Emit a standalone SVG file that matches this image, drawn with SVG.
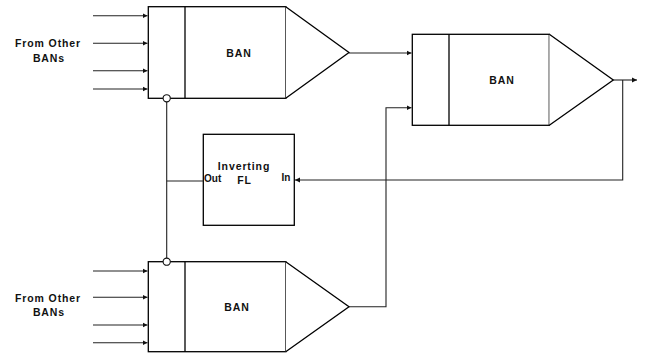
<svg xmlns="http://www.w3.org/2000/svg" width="645" height="355" viewBox="0 0 645 355">
<style>
.box{fill:#fff;stroke:#000;stroke-width:1.3}
.ln{fill:none;stroke:#222;stroke-width:1.1}
.t{font-family:"Liberation Sans",Arial,sans-serif;font-weight:bold;font-size:10.5px;fill:#111;text-anchor:middle;letter-spacing:0.9px}
.s{font-family:"Liberation Sans",Arial,sans-serif;font-weight:bold;font-size:10px;fill:#111}
</style>
<defs>
<marker id="ah" markerWidth="6" markerHeight="6" refX="5" refY="3" orient="auto" markerUnits="userSpaceOnUse">
<path d="M0,0.5 L5,3 L0,5.5 Z" fill="#111"/>
</marker>
</defs>
<rect width="645" height="355" fill="#fff"/>
<g id="ban-top">
<rect class="box" x="148.3" y="6.7" width="137.4" height="91.6"/>
<line class="box" x1="185" y1="6.7" x2="185" y2="98.3"/>
<polyline class="box" points="285.7,6.7 349,52.5 285.7,98.3"/>
<text class="t" x="239" y="56.7">BAN</text>
<text class="t" x="48" y="47.3">From Other</text>
<text class="t" x="49" y="61.7">BANs</text>
</g>
<g id="ban-right">
<rect class="box" x="412.3" y="34.3" width="137" height="91"/>
<line class="box" x1="449" y1="34.3" x2="449" y2="125.3"/>
<polyline class="box" points="549.3,34.3 613.3,80 549.3,125.3"/>
<text class="t" x="502" y="84">BAN</text>
</g>
<g id="ban-bottom">
<rect class="box" x="148.3" y="261.7" width="137.4" height="90"/>
<line class="box" x1="185" y1="261.7" x2="185" y2="351.7"/>
<polyline class="box" points="285.7,261.7 349,306.7 285.7,351.7"/>
<text class="t" x="237" y="310.7">BAN</text>
<text class="t" x="48" y="301.7">From Other</text>
<text class="t" x="49" y="315.7">BANs</text>
</g>
<g id="inverting-fl">
<rect class="box" x="203.3" y="134.3" width="91" height="91"/>
<text class="t" x="244" y="170">Inverting</text>
<text class="t" x="244.5" y="184">FL</text>
<text class="s" x="204" y="181.7">Out</text>
<text class="s" x="281.5" y="181">In</text>
</g>
<g id="connectors">
<line class="ln" x1="93" y1="15.7" x2="147.5" y2="15.7" marker-end="url(#ah)"/>
<line class="ln" x1="93" y1="43.3" x2="147.5" y2="43.3" marker-end="url(#ah)"/>
<line class="ln" x1="93" y1="70.7" x2="147.5" y2="70.7" marker-end="url(#ah)"/>
<line class="ln" x1="93" y1="89" x2="147.5" y2="89" marker-end="url(#ah)"/>
<line class="ln" x1="93" y1="271" x2="147.5" y2="271" marker-end="url(#ah)"/>
<line class="ln" x1="93" y1="297.3" x2="147.5" y2="297.3" marker-end="url(#ah)"/>
<line class="ln" x1="93" y1="325" x2="147.5" y2="325" marker-end="url(#ah)"/>
<line class="ln" x1="93" y1="342.7" x2="147.5" y2="342.7" marker-end="url(#ah)"/>
<line class="ln" x1="349" y1="53" x2="411.5" y2="53" marker-end="url(#ah)"/>
<polyline class="ln" points="349,306.7 386,306.7 386,107.7 411.5,107.7" marker-end="url(#ah)"/>
<line class="ln" x1="613" y1="80" x2="637" y2="80" marker-end="url(#ah)"/>
<polyline class="ln" points="622.7,80 622.7,180 295,180" marker-end="url(#ah)"/>
<line class="ln" x1="166.7" y1="102" x2="166.7" y2="258"/>
<line class="ln" x1="166.7" y1="181" x2="203.3" y2="181"/>
<circle cx="166.7" cy="98.3" r="3.6" fill="#fff" stroke="#111" stroke-width="1.1"/>
<circle cx="166.7" cy="261.7" r="3.6" fill="#fff" stroke="#111" stroke-width="1.1"/>
</g>
</svg>
